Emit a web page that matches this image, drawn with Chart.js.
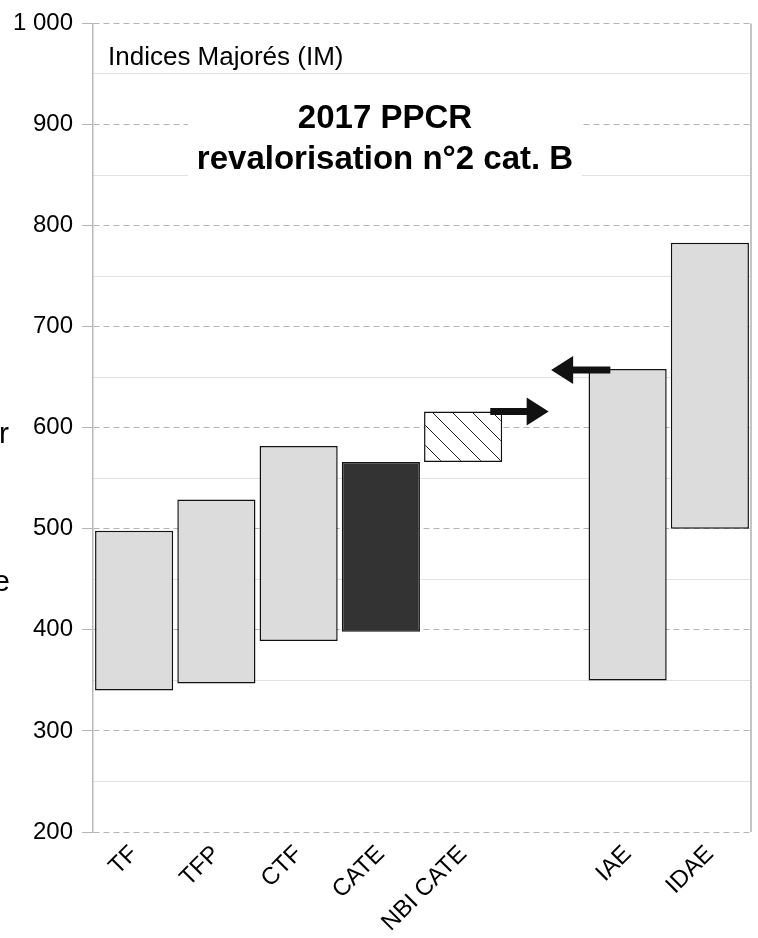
<!DOCTYPE html>
<html>
<head>
<meta charset="utf-8">
<script src="https://cdn.jsdelivr.net/npm/chart.js@4/dist/chart.umd.min.js"></script>
<style>
  body { margin: 0; background: #fff; }
  canvas { display: block; }
</style>
</head>
<body>
<canvas id="chart" width="758" height="938"></canvas>
<script>
// categories (empty slot between NBI CATE and IAE)
const categories = ["TF", "TFP", "CTF", "CATE", "NBI CATE", "", "IAE", "IDAE"];
// floating bars: [bottom, top] in indices majorés
const lowValues = [340, 347, 389, 398, 566, null, 350, 500];
const highValues = [498, 529, 582, 566, 616, null, 658, 783];
// arrows, as [category index, value]
const arrowFrom = [[4.33, 616], [5.79, 657]];
const arrowTo = [[5.04, 616], [5.07, 657]];

const yMin = 200;
const yMax = 1000;
const unitLabel = "Indices Majorés (IM)";
const titleLines = ["2017 PPCR", "revalorisation n°2 cat. B"];

const FONT = "'Liberation Sans', Arial, sans-serif";

const makeHatch = () => {
  const s = 20;
  const c = document.createElement("canvas");
  c.width = s;
  c.height = s;
  const g = c.getContext("2d");
  g.fillStyle = "#fff";
  g.fillRect(0, 0, s, s);
  g.strokeStyle = "#222";
  g.lineWidth = 1;
  g.beginPath();
  g.moveTo(-1, -1); g.lineTo(s + 1, s + 1);
  g.moveTo(s - 2, -2); g.lineTo(s + 2, 2);
  g.moveTo(-2, s - 2); g.lineTo(2, s + 2);
  g.stroke();
  return g.createPattern(c, "repeat");
};

const hatch = makeHatch();
const fills = ["#dcdcdc", "#dcdcdc", "#dcdcdc", "#333333", hatch, "#dcdcdc", "#dcdcdc", "#dcdcdc"];

const ranges = categories.map((_, i) =>
  lowValues[i] === null ? null : [lowValues[i], highValues[i]]
);

const decorations = {
  id: "decorations",
  beforeDatasetsDraw(chart) {
    const { ctx, chartArea } = chart;
    ctx.save();
    // right frame
    ctx.strokeStyle = "#c4c4c4";
    ctx.lineWidth = 2;
    ctx.beginPath();
    ctx.moveTo(chartArea.right, chartArea.top);
    ctx.lineTo(chartArea.right, chartArea.bottom);
    ctx.stroke();
    // title box
    const cx = chartArea.left + 292;
    ctx.fillStyle = "#fff";
    ctx.fillRect(cx - 197, chartArea.top + 68, 394, 94);
    ctx.fillStyle = "#000";
    ctx.font = "bold 33px " + FONT;
    ctx.textAlign = "center";
    ctx.textBaseline = "middle";
    ctx.fillText(titleLines[0], cx, chartArea.top + 96);
    ctx.fillText(titleLines[1], cx, chartArea.top + 137);
    // unit label
    ctx.font = "26px " + FONT;
    ctx.textAlign = "left";
    ctx.textBaseline = "alphabetic";
    ctx.fillText(unitLabel, chartArea.left + 15, chartArea.top + 42);
    // clipped letters at far left
    ctx.font = "30px " + FONT;
    ctx.textAlign = "right";
    ctx.fillText("r", 9, 443);
    ctx.fillText("e", 10, 591);
    ctx.restore();
  },
  afterDatasetsDraw(chart) {
    const { ctx, scales } = chart;
    ctx.save();
    ctx.fillStyle = "#111";
    arrowFrom.forEach((from, i) => {
      const to = arrowTo[i];
      const x1 = scales.x.getPixelForValue(from[0]);
      const y1 = scales.y.getPixelForValue(from[1]);
      const x2 = scales.x.getPixelForValue(to[0]);
      const dir = Math.sign(x2 - x1);
      const head = 22;
      const half = 14;
      const shaft = 3.5;
      const xb = x2 - dir * head;
      ctx.beginPath();
      ctx.moveTo(x1, y1 - shaft);
      ctx.lineTo(xb, y1 - shaft);
      ctx.lineTo(xb, y1 - half);
      ctx.lineTo(x2, y1);
      ctx.lineTo(xb, y1 + half);
      ctx.lineTo(xb, y1 + shaft);
      ctx.lineTo(x1, y1 + shaft);
      ctx.closePath();
      ctx.fill();
    });
    ctx.restore();
  },
};

new Chart(document.getElementById("chart"), {
  type: "bar",
  data: {
    labels: categories,
    datasets: [
      {
        data: ranges,
        backgroundColor: fills,
        borderColor: "#111",
        borderWidth: 1.5,
        borderSkipped: false,
        barPercentage: 0.95,
        categoryPercentage: 1,
      },
    ],
  },
  options: {
    responsive: false,
    animation: false,
    layout: { padding: { top: 22, right: 7, left: 0, bottom: 0 } },
    plugins: {
      legend: { display: false },
      tooltip: { enabled: false },
    },
    scales: {
      x: {
        offset: true,
        grid: { display: false, drawTicks: false },
        border: { display: false },
        ticks: {
          color: "#000",
          font: { family: FONT, size: 24 },
          minRotation: 45,
          maxRotation: 45,
          autoSkip: false,
          padding: 8,
        },
        afterFit: (scale) => {
          scale.height = 106;
        },
      },
      y: {
        position: "left",
        min: yMin,
        max: yMax,
        grid: {
          color: "#b4b4b4",
          lineWidth: 1,
          tickColor: "#b4b4b4",
          tickLength: 11,
          tickBorderDash: [],
        },
        border: { display: true, color: "#b8b8b8", width: 1.5, dash: [6, 4] },
        ticks: {
          stepSize: 100,
          color: "#000",
          padding: 9,
          font: { family: FONT, size: 24 },
          callback: (v) => (v >= 1000 ? "1 000" : String(v)),
        },
        afterFit: (scale) => {
          scale.width = 93;
        },
      },
      yMinor: {
        position: "left",
        min: yMin,
        max: yMax,
        grid: {
          color: (c) => (c.tick && c.tick.value % 100 === 0 ? "rgba(0,0,0,0)" : "#e2e2e2"),
          drawTicks: false,
        },
        border: { display: false },
        ticks: { display: false, stepSize: 50 },
        afterFit: (scale) => {
          scale.width = 0;
        },
      },
    },
  },
  plugins: [decorations],
});
</script>
</body>
</html>
